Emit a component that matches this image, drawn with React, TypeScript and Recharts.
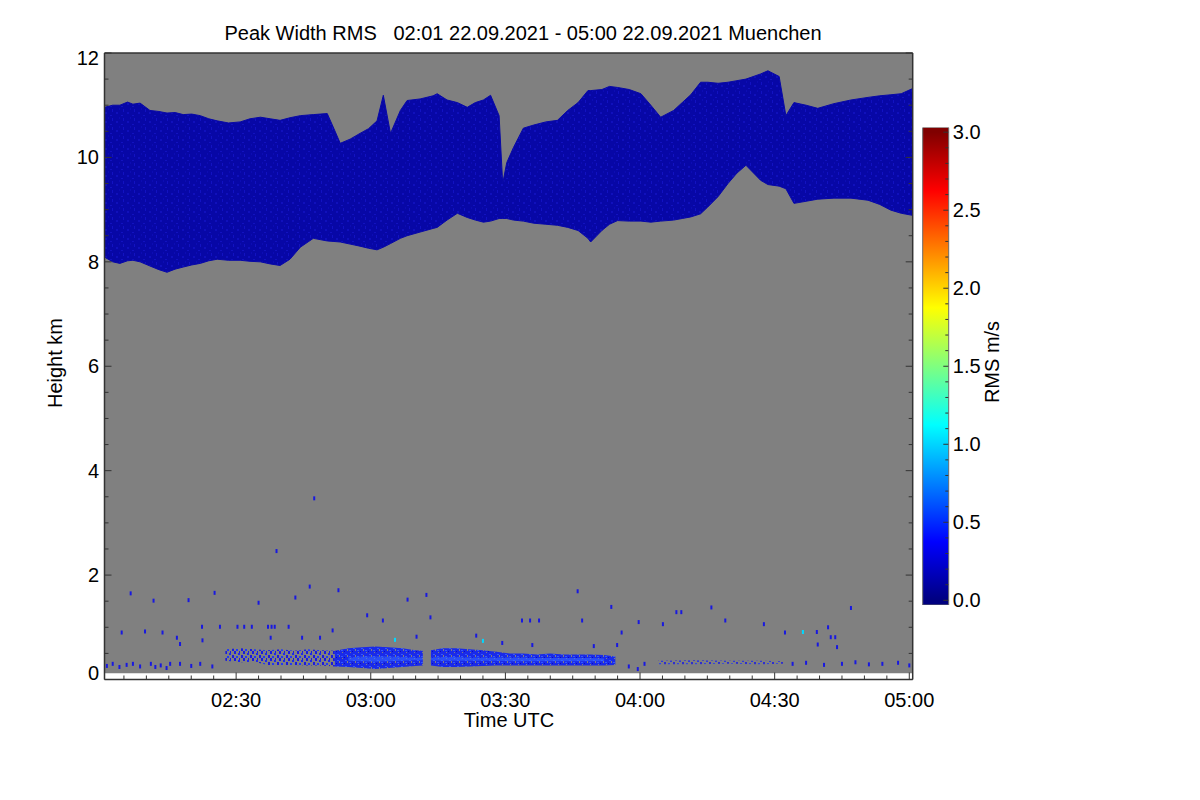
import { ComposedChart, BarChart, Bar, Area, Scatter, XAxis, YAxis } from 'recharts';

const FONT = "'Liberation Sans', Arial, Helvetica, sans-serif";
const FS = 20;

// time axis in minutes after 00:00 UTC
const timeMin = 120.67;
const timeMax = 300.76;
const xTicks = [125, 130, 135, 140, 145, 150, 155, 160, 165, 170, 175, 180, 185, 190, 195, 200, 205, 210, 215, 220, 225, 230, 235, 240, 245, 250, 255, 260, 265, 270, 275, 280, 285, 290, 295, 300];
const xLabelTicks = [150, 180, 210, 240, 270, 300];
const xTickLabels = ['02:30', '03:00', '03:30', '04:00', '04:30', '05:00'];

const yTicks = [0, 0.5, 1, 1.5, 2, 2.5, 3, 3.5, 4, 4.5, 5, 5.5, 6, 6.5, 7, 7.5, 8, 8.5, 9, 9.5, 10, 10.5, 11, 11.5, 12];
const yLabelTicks = [0, 2, 4, 6, 8, 10, 12];

// lowest range gate / top of the measurement
const gateMin = 0.12;
const gateMax = 12;

// cirrus band (km)
const cloudTime = [120.7, 122.5, 124.1, 125.8, 127.0, 128.6, 130.8, 132.8, 134.6, 136.4, 138.2, 140.1, 142.0, 143.9, 145.8, 148.3, 150.9, 153.1, 155.4, 157.6, 159.8, 162.0, 164.3, 167.2, 170.3, 171.8, 173.2, 175.4, 177.6, 179.5, 181.4, 182.8, 184.4, 186.6, 188.1, 191.0, 193.9, 194.8, 197.0, 199.3, 201.5, 203.3, 205.1, 206.7, 208.6, 209.4, 210.3, 211.8, 214.0, 216.3, 219.0, 221.6, 223.9, 226.2, 228.4, 229.0, 231.5, 233.2, 235.0, 237.6, 240.2, 242.4, 244.6, 247.5, 249.4, 251.3, 253.5, 255.1, 257.4, 259.6, 261.6, 263.6, 266.9, 268.5, 271.0, 272.5, 274.3, 277.0, 279.6, 283.2, 287.0, 290.8, 293.4, 295.9, 298.2, 300.76];
const cloudTop = [10.96, 11.0, 11.0, 11.06, 11.02, 11.04, 10.9, 10.88, 10.85, 10.86, 10.82, 10.83, 10.8, 10.74, 10.7, 10.66, 10.68, 10.74, 10.77, 10.74, 10.71, 10.76, 10.8, 10.82, 10.84, 10.55, 10.27, 10.35, 10.46, 10.55, 10.7, 11.19, 10.46, 10.9, 11.09, 11.12, 11.18, 11.22, 11.1, 11.05, 10.96, 11.05, 11.1, 11.19, 10.8, 9.5, 9.9, 10.19, 10.56, 10.62, 10.68, 10.71, 10.9, 11.05, 11.28, 11.28, 11.3, 11.36, 11.34, 11.3, 11.22, 11.0, 10.77, 10.9, 11.05, 11.2, 11.44, 11.44, 11.42, 11.44, 11.47, 11.5, 11.6, 11.66, 11.55, 10.8, 11.05, 11.0, 10.94, 11.03, 11.1, 11.15, 11.18, 11.2, 11.22, 11.32];
const cloudBase = [8.09, 8.0, 7.97, 8.02, 8.03, 8.0, 7.92, 7.85, 7.8, 7.86, 7.9, 7.94, 7.97, 8.02, 8.05, 8.03, 8.03, 8.01, 8.0, 7.96, 7.93, 8.05, 8.28, 8.45, 8.4, 8.39, 8.38, 8.34, 8.3, 8.26, 8.23, 8.28, 8.35, 8.45, 8.5, 8.57, 8.64, 8.66, 8.8, 8.93, 8.85, 8.8, 8.76, 8.78, 8.83, 8.83, 8.83, 8.8, 8.78, 8.74, 8.72, 8.7, 8.66, 8.6, 8.45, 8.38, 8.6, 8.72, 8.79, 8.78, 8.78, 8.76, 8.78, 8.8, 8.83, 8.86, 8.92, 9.05, 9.25, 9.5, 9.7, 9.85, 9.56, 9.48, 9.45, 9.4, 9.12, 9.16, 9.2, 9.22, 9.22, 9.18, 9.1, 8.99, 8.93, 8.89];

// boundary layer echoes (km)
const sparseTime = [147.6, 151, 154, 157, 160, 163, 166, 169, 172];
const sparseBase = [0.36, 0.33, 0.34, 0.28, 0.28, 0.28, 0.27, 0.27, 0.25];
const sparseTop = [0.58, 0.6, 0.58, 0.56, 0.58, 0.55, 0.58, 0.56, 0.55];

const denseTime = [172, 175, 178, 181, 184, 187, 190, 191.6, 192.5, 193.4, 196, 199, 202, 205, 208, 211, 214, 217, 220, 223, 226, 229, 232, 234.5];
const denseBase = [0.25, 0.24, 0.22, 0.2, 0.22, 0.24, 0.26, 0.27, null, 0.27, 0.24, 0.24, 0.25, 0.26, 0.27, 0.27, 0.27, 0.27, 0.27, 0.27, 0.27, 0.27, 0.27, 0.28];
const denseTop = [0.55, 0.6, 0.62, 0.63, 0.62, 0.6, 0.56, 0.55, null, 0.56, 0.6, 0.6, 0.58, 0.56, 0.53, 0.5, 0.5, 0.48, 0.5, 0.48, 0.48, 0.48, 0.47, 0.44];

const coreTime = [175, 178, 181, 184, 187, 190, 191.6, 192.5, 193.4, 196, 199, 202, 205, 208, 211, 214, 217, 220, 223, 226, 229, 232];
const coreBase = [0.36, 0.35, 0.34, 0.35, 0.36, 0.37, 0.37, null, 0.37, 0.36, 0.36, 0.36, 0.36, 0.36, 0.35, 0.35, 0.35, 0.35, 0.35, 0.35, 0.35, 0.35];
const coreTop = [0.42, 0.44, 0.44, 0.44, 0.43, 0.42, 0.42, null, 0.42, 0.43, 0.43, 0.42, 0.42, 0.42, 0.42, 0.42, 0.41, 0.41, 0.41, 0.41, 0.41, 0.4];

const trailTime = [244, 252, 260, 266, 272];
const trailBase = [0.29, 0.29, 0.3, 0.29, 0.3];
const trailTop = [0.36, 0.37, 0.36, 0.36, 0.35];

// isolated echoes [time, height]
const echoDots = [
  [126.5, 1.65], [131.6, 1.51], [139.4, 1.52], [145.2, 1.66], [155, 1.47], [163.2, 1.57], [166.4, 1.78], [172.8, 1.71],
  [179.2, 1.23], [182.7, 1.13], [188.2, 1.53], [192.4, 1.62], [193.3, 1.19],
  [124.5, 0.9], [129.7, 0.92], [133.6, 0.9], [142.4, 1.01], [146.4, 1.01], [150.3, 1.01], [151.8, 1.01], [153.5, 1.01],
  [157.1, 1.01], [157.9, 1.01], [158.6, 1.01], [161.7, 1.01], [171.5, 0.94],
  [136.8, 0.8], [137.5, 0.68], [142.5, 0.75], [157.7, 0.8], [164.7, 0.8], [168.7, 0.8], [190.2, 0.82], [203.5, 0.84], [209.3, 0.7],
  [167.4, 3.47], [159, 2.46],
  [226.1, 1.69], [233.6, 1.39], [213.7, 1.13], [215.5, 1.13], [217.5, 1.13], [227.1, 1.13], [239.7, 1.1], [245.1, 1.06],
  [248.1, 1.29], [249.2, 1.29], [255.9, 1.38], [259, 1.13], [267.6, 1.06], [272.3, 0.9], [279.4, 0.91], [281.9, 1.0],
  [282.5, 0.81], [283.5, 0.81], [287, 1.37], [279.6, 0.67], [283.9, 0.62], [235.9, 0.9], [234.9, 0.66], [216, 0.66], [229.7, 0.64],
  [121.2, 0.26], [122.5, 0.3], [124, 0.24], [125.6, 0.28], [127, 0.3], [128.6, 0.25], [131, 0.3], [132, 0.24], [133.2, 0.27],
  [134.5, 0.22], [135.3, 0.3], [137.5, 0.3], [140, 0.26], [142, 0.3], [144.7, 0.25],
  [237.5, 0.25], [239.5, 0.2], [241, 0.3],
  [274, 0.3], [277, 0.32], [281, 0.28], [285, 0.3], [288, 0.33], [291, 0.29], [294, 0.3], [297.5, 0.32], [300, 0.27],
];
const cyanDots = [[185.4, 0.76], [276.3, 0.91], [205, 0.74]];

// colour bar
const cbMin = -0.03;
const cbMax = 3.03;
const cbLabelTicks = [0, 0.5, 1, 1.5, 2, 2.5, 3];
const cbStopValues = [0, 0.375, 1.125, 1.875, 2.625, 3];
const cbStopColors = ['#000080', '#0000ff', '#00ffff', '#ffff00', '#ff0000', '#800000'];

const range = (time: number[], lo: (number | null)[], hi: (number | null)[]) =>
  time.map((t, i) => ({ t, band: lo[i] == null || hi[i] == null ? null : [lo[i], hi[i]] }));

const bgData = range([timeMin, timeMax], [gateMin, gateMin], [gateMax, gateMax]);
const cloudData = range(cloudTime, cloudBase, cloudTop);
const sparseData = range(sparseTime, sparseBase, sparseTop);
const denseData = range(denseTime, denseBase, denseTop);
const coreData = range(coreTime, coreBase, coreTop);
const trailData = range(trailTime, trailBase, trailTop);
const dotData = echoDots.map(([t, h]) => ({ t, h }));
const cyanData = cyanDots.map(([t, h]) => ({ t, h }));

const cbTicks = Array.from({ length: 31 }, (_, i) => i / 10);
const cbData = [{ name: 'rms', value: [cbMin, cbMax] }];

const FRAME = '#333';

const fmtTime = (v: number) => xTickLabels[xLabelTicks.indexOf(v)];

const BottomTick = (props: any) => {
  const { x, y, payload } = props;
  const major = xLabelTicks.includes(payload.value);
  return (
    <g>
      <line x1={x} x2={x} y1={y} y2={y - (major ? 7 : 4)} stroke={FRAME} />
      {major && (
        <text x={x} y={y + 27.5} textAnchor="middle" fontSize={FS} fontFamily={FONT} fill="#000">
          {fmtTime(payload.value)}
        </text>
      )}
    </g>
  );
};

const TopTick = (props: any) => {
  const { x, y, payload } = props;
  const major = xLabelTicks.includes(payload.value);
  return <line x1={x} x2={x} y1={y} y2={y + (major ? 7 : 4)} stroke={FRAME} />;
};

const LeftTick = (props: any) => {
  const { x, y, payload } = props;
  const v = payload.value;
  const major = yLabelTicks.includes(v);
  const dy = v === 0 ? 0.5 : v === 12 ? 12 : 7;
  return (
    <g>
      <line x1={x} x2={x + (major ? 7 : 4)} y1={y} y2={y} stroke={FRAME} />
      {major && (
        <text x={x - 5.5} y={y + dy} textAnchor="end" fontSize={FS} fontFamily={FONT} fill="#000">
          {v}
        </text>
      )}
    </g>
  );
};

const RightTick = (props: any) => {
  const { x, y, payload } = props;
  const major = yLabelTicks.includes(payload.value);
  return <line x1={x} x2={x - (major ? 7 : 4)} y1={y} y2={y} stroke={FRAME} />;
};

const CbTick = (props: any) => {
  const { x, y, payload } = props;
  const v = payload.value;
  const major = cbLabelTicks.some((m) => Math.abs(m - v) < 1e-6);
  return (
    <g>
      <line x1={x} x2={x - (major ? 5 : 3)} y1={y} y2={y} stroke={FRAME} />
      {major && (
        <text x={x + 4.5} y={y + 7} textAnchor="start" fontSize={FS} fontFamily={FONT} fill="#000">
          {v.toFixed(1)}
        </text>
      )}
    </g>
  );
};

const dotShape = (color: string) => (props: any) =>
  <rect x={props.cx - 1} y={props.cy - 2} width={2} height={4} fill={color} />;

const labelStyle = (x: number, y: number, rotate = false): any => ({
  position: 'absolute',
  left: x,
  top: y,
  transform: `translate(-50%, -50%)${rotate ? ' rotate(-90deg)' : ''}`,
  whiteSpace: 'pre',
  fontFamily: FONT,
  fontSize: FS,
  lineHeight: 1,
  color: '#000',
});

const areaProps = { xAxisId: 'b', yAxisId: 'l', dataKey: 'band', type: 'linear' as const, isAnimationActive: false, dot: false, activeDot: false };

export default function App() {
  return (
    <div style={{ position: 'absolute', left: 0, top: 0, width: 1200, height: 800, background: '#fff' }}>
      <ComposedChart
        width={1200}
        height={800}
        margin={{ top: 52, left: 103.5, right: 286.3, bottom: 119.5 }}
        style={{ position: 'absolute', left: 0, top: 0 }}
      >
        <defs>
          <pattern id="cirrusTex" width="11" height="9" patternUnits="userSpaceOnUse">
            <rect width="11" height="9" fill="#0707a6" />
            <rect x="2" y="1" width="1" height="3" fill="#1212c2" />
            <rect x="6" y="4" width="2" height="2" fill="#1010bc" />
            <rect x="9" y="0" width="1" height="2" fill="#0c0cb4" />
            <rect x="0" y="7" width="2" height="1" fill="#1212c0" />
          </pattern>
          <pattern id="speckleSparse" width="9" height="7" patternUnits="userSpaceOnUse">
            <rect x="0" y="0" width="2" height="3" fill="#1a1ae0" />
            <rect x="4" y="2" width="2" height="2" fill="#1c28ee" />
            <rect x="7" y="4" width="2" height="3" fill="#1a1ae0" />
            <rect x="2" y="5" width="2" height="2" fill="#2038f6" />
            <rect x="5" y="0" width="1" height="2" fill="#1a1ae0" />
          </pattern>
          <pattern id="speckleDense" width="8" height="6" patternUnits="userSpaceOnUse">
            <rect width="8" height="6" fill="#1a2ae8" />
            <rect x="3" y="1" width="1" height="2" fill="#808080" />
            <rect x="6" y="4" width="1" height="1" fill="#808080" />
            <rect x="0" y="3" width="1" height="1" fill="#0c0cc0" />
            <rect x="1" y="0" width="2" height="1" fill="#3358ff" />
            <rect x="5" y="2" width="2" height="1" fill="#3358ff" />
          </pattern>
        </defs>
        <XAxis
          xAxisId="b"
          dataKey="t"
          type="number"
          domain={[timeMin, timeMax]}
          allowDataOverflow
          ticks={xTicks}
          interval={0}
          height={1}
          tickSize={0}
          tickMargin={0}
          tick={<BottomTick />}
          axisLine={{ stroke: FRAME, strokeWidth: 1.5 }}
        />
        <XAxis
          xAxisId="t"
          orientation="top"
          type="number"
          domain={[timeMin, timeMax]}
          allowDataOverflow
          ticks={xTicks}
          interval={0}
          height={1}
          tickSize={0}
          tickMargin={0}
          tick={<TopTick />}
          axisLine={{ stroke: FRAME, strokeWidth: 1.5 }}
        />
        <YAxis
          yAxisId="l"
          type="number"
          domain={[0, 12]}
          allowDataOverflow
          ticks={yTicks}
          interval={0}
          width={1}
          tickSize={0}
          tickMargin={0}
          tick={<LeftTick />}
          axisLine={{ stroke: FRAME, strokeWidth: 1.5 }}
        />
        <YAxis
          yAxisId="r"
          orientation="right"
          type="number"
          domain={[0, 12]}
          allowDataOverflow
          ticks={yTicks}
          interval={0}
          width={1}
          tickSize={0}
          tickMargin={0}
          tick={<RightTick />}
          axisLine={{ stroke: FRAME, strokeWidth: 1.5 }}
        />
        <Area {...areaProps} data={bgData} stroke="none" fill="#808080" fillOpacity={1} />
        <Area {...areaProps} data={cloudData} stroke="#0808a8" strokeWidth={1} fill="url(#cirrusTex)" fillOpacity={1} />
        <Area {...areaProps} data={sparseData} stroke="none" fill="url(#speckleSparse)" fillOpacity={1} />
        <Area {...areaProps} data={denseData} stroke="none" fill="url(#speckleDense)" fillOpacity={1} />
        <Area {...areaProps} data={coreData} stroke="none" fill="#3a6cff" fillOpacity={0.55} />
        <Area {...areaProps} data={trailData} stroke="none" fill="url(#speckleSparse)" fillOpacity={0.8} />
        <Scatter xAxisId="b" yAxisId="l" data={dotData} dataKey="h" shape={dotShape('#1818e0')} isAnimationActive={false} />
        <Scatter xAxisId="b" yAxisId="l" data={cyanData} dataKey="h" shape={dotShape('#00d8ff')} isAnimationActive={false} />
      </ComposedChart>

      <BarChart
        width={1200}
        height={800}
        data={cbData}
        margin={{ top: 127.5, left: 922.7, right: 250.7, bottom: 195 }}
        barCategoryGap={0}
        style={{ position: 'absolute', left: 0, top: 0 }}
      >
        <defs>
          <linearGradient id="jet" x1="0" y1="1" x2="0" y2="0">
            {cbStopValues.map((v, i) => (
              <stop key={i} offset={`${((v - cbMin) / (cbMax - cbMin)) * 100}%`} stopColor={cbStopColors[i]} />
            ))}
          </linearGradient>
        </defs>
        <XAxis dataKey="name" hide />
        <YAxis
          orientation="right"
          type="number"
          domain={[cbMin, cbMax]}
          allowDataOverflow
          ticks={cbTicks}
          interval={0}
          width={1}
          tickSize={0}
          tickMargin={0}
          axisLine={false}
          tick={<CbTick />}
        />
        <Bar dataKey="value" fill="url(#jet)" stroke="#6a6a6a" strokeWidth={1} isAnimationActive={false} />
      </BarChart>

      <div style={labelStyle(523, 33)}>{'Peak Width RMS   02:01 22.09.2021 - 05:00 22.09.2021 Muenchen'}</div>
      <div style={labelStyle(509, 720)}>Time UTC</div>
      <div style={labelStyle(55, 363, true)}>Height km</div>
      <div style={labelStyle(992, 362, true)}>RMS m/s</div>
    </div>
  );
}
